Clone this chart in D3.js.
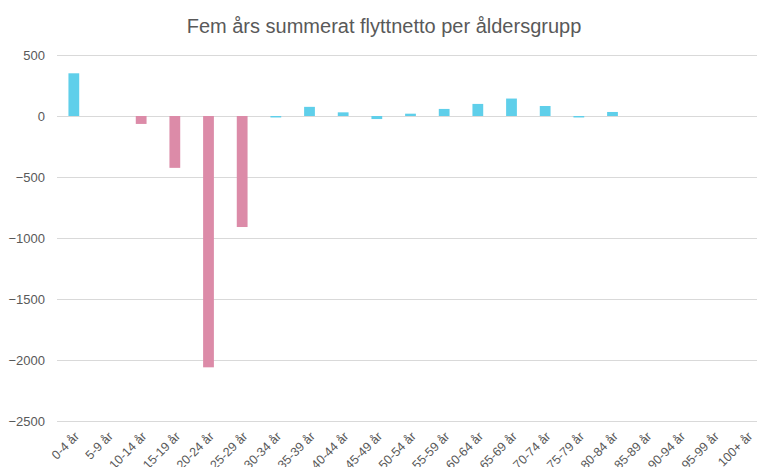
<!DOCTYPE html>
<html>
<head>
<meta charset="utf-8">
<script src="https://cdn.jsdelivr.net/npm/d3@7"></script>
<style>
  body { margin: 0; background: #fff; }
  #viz { width: 757px; height: 467px; }
  text { font-family: "Liberation Sans", Arial, sans-serif; }
</style>
</head>
<body>
<div id="viz"></div>
<script>
//Datos
const categorias = ['0-4 år','5-9 år','10-14 år','15-19 år','20-24 år','25-29 år','30-34 år','35-39 år',
  '40-44 år','45-49 år','50-54 år','55-59 år','60-64 år','65-69 år','70-74 år','75-79 år','80-84 år',
  '85-89 år','90-94 år','95-99 år','100+ år'];
const valores = [350, 0, -65, -425, -2060, -910, -12, 75, 30, -25, 19, 58, 99, 143, 82, -12, 33, 0, 0, 0, 0];
//Grupo de color por categoría (u = unga, ö = övriga)
const grupos = ['ö','ö','u','u','u','u','ö','ö','ö','ö','ö','ö','ö','ö','ö','ö','ö','ö','ö','ö','ö'];
const ticksY = [500, 0, -500, -1000, -1500, -2000, -2500];

const COLOR_BLUE = '#5FCFEA', COLOR_PINK = '#DC8BA8', COLOR_TEXT = '#595959', COLOR_GRID = '#D9D9D9';

let margin = {top: 55, right: -7, bottom: 46, left: 57},
    width = 757 - margin.left - margin.right,
    height = 467 - margin.top - margin.bottom;

let root = d3.select('#viz').append('svg')
    .attr('width', 757)
    .attr('height', 467);

root.append('text')
    .attr('x', 384)
    .attr('y', 33)
    .attr('text-anchor', 'middle')
    .style('font-size', '20px')
    .style('fill', COLOR_TEXT)
    .text('Fem års summerat flyttnetto per åldersgrupp');

let svg = root.append('g')
    .attr('transform', 'translate(' + margin.left + ',' + margin.top + ')');

let x = d3.scaleBand()
    .domain(categorias)
    .range([0, width])
    .paddingInner(0.68)
    .paddingOuter(0.34);

let y = d3.scaleLinear()
    .domain([500, -2500])
    .range([0, 366]);

//Eje Y + grid
svg.append('g')
    .call(d3.axisLeft(y).tickValues(ticksY).tickSize(-width).tickFormat(d3.format('d')))
    .call(function(g) {
        g.select('.domain').remove();
        g.selectAll('line').attr('stroke', COLOR_GRID).attr('stroke-width', 1);
        g.selectAll('text')
            .attr('x', -12)
            .style('font-size', '13px')
            .style('fill', COLOR_TEXT);
    });

//Barras
svg.append('g')
    .selectAll('rect')
    .data(categorias)
    .enter()
    .append('rect')
    .attr('x', function(d) { return x(d); })
    .attr('width', x.bandwidth())
    .attr('y', function(d, i) { return y(Math.max(0, valores[i])); })
    .attr('height', function(d, i) { return Math.abs(y(valores[i]) - y(0)); })
    .attr('fill', function(d, i) { return grupos[i] == 'u' ? COLOR_PINK : COLOR_BLUE; });

//Eje X
svg.append('g')
    .attr('transform', 'translate(0,' + y(-2500) + ')')
    .call(d3.axisBottom(x).tickSize(0))
    .call(function(g) {
        g.select('.domain').remove();
        g.selectAll('text')
            .attr('x', 0)
            .attr('y', 0)
            .attr('dy', '0.35em')
            .attr('text-anchor', 'end')
            .attr('transform', 'translate(3,13) rotate(-45)')
            .style('font-size', '12.5px')
            .style('fill', COLOR_TEXT);
    });
</script>
</body>
</html>
